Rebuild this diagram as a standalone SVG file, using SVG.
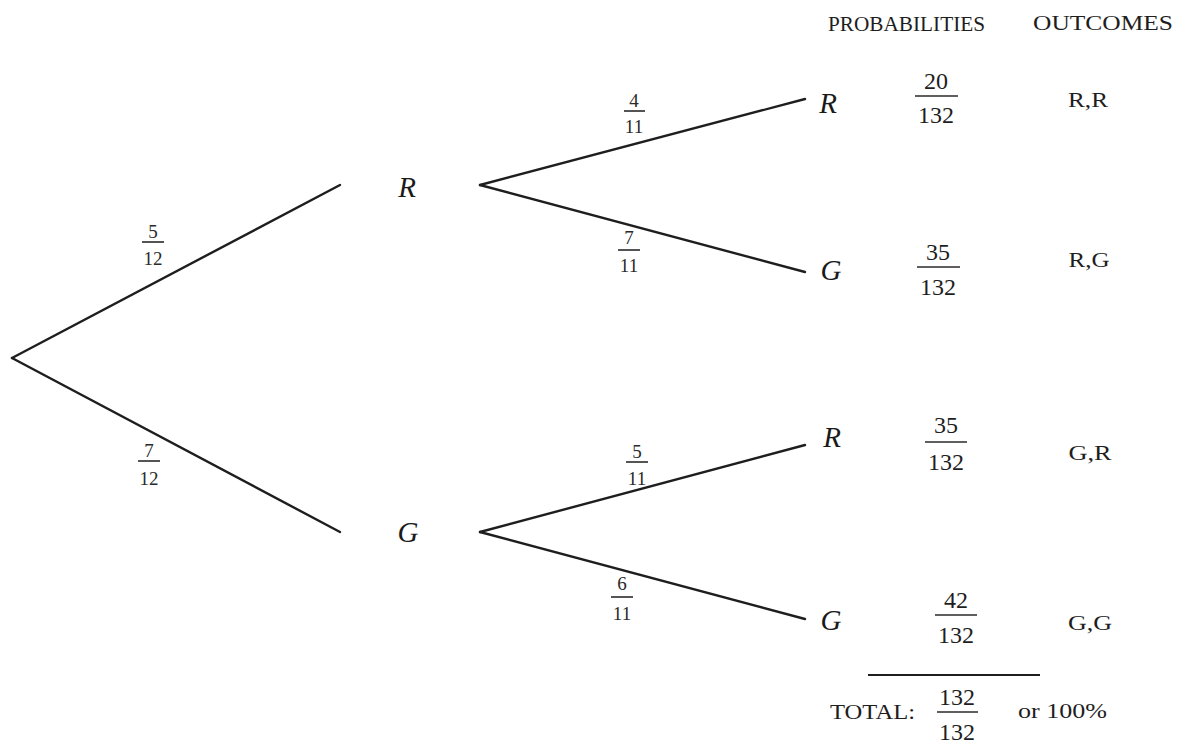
<svg xmlns="http://www.w3.org/2000/svg" width="1185" height="744" viewBox="0 0 1185 744">
<style>
.br{stroke:#1e1e1e;stroke-width:2.4;fill:none;stroke-linecap:round}
.bar{stroke:#2a2a2a;stroke-width:1.6}
.node{font-family:"Liberation Serif",serif;font-style:italic;font-size:29px;fill:#1a1a1a;text-anchor:middle}
.sf{font-family:"Liberation Serif",serif;font-size:19px;fill:#2a2a2a;text-anchor:middle}
.lf{font-family:"Liberation Serif",serif;font-size:24px;fill:#1e1e1e;text-anchor:middle}
.hd{font-family:"Liberation Serif",serif;font-size:22px;fill:#1e1e1e}
.oc{font-family:"Liberation Serif",serif;font-size:22px;fill:#1e1e1e;text-anchor:middle}
</style>
<rect width="1185" height="744" fill="#ffffff"/>

<g id="connectors">
<line class="br" x1="12" y1="358" x2="340" y2="185"/>
<line class="br" x1="12" y1="358" x2="340" y2="532"/>
<line class="br" x1="480" y1="185" x2="805" y2="99"/>
<line class="br" x1="480" y1="185" x2="805" y2="272"/>
<line class="br" x1="480" y1="532" x2="805" y2="445"/>
<line class="br" x1="480" y1="532" x2="805" y2="619"/>
</g>

<g id="branch-labels">
<g id="p-5-12"><text class="sf" x="153" y="238">5</text><line class="bar" x1="142" y1="242" x2="164" y2="242"/><text class="sf" x="153" y="265">12</text></g>
<g id="p-7-12"><text class="sf" x="149" y="457">7</text><line class="bar" x1="138" y1="461" x2="160" y2="461"/><text class="sf" x="149" y="485">12</text></g>
<g id="p-4-11"><text class="sf" x="634" y="107">4</text><line class="bar" x1="624" y1="111" x2="645" y2="111"/><text class="sf" x="634" y="133">11</text></g>
<g id="p-7-11"><text class="sf" x="629" y="244">7</text><line class="bar" x1="618" y1="250" x2="640" y2="250"/><text class="sf" x="629" y="272">11</text></g>
<g id="p-5-11"><text class="sf" x="637" y="458">5</text><line class="bar" x1="626" y1="462" x2="648" y2="462"/><text class="sf" x="637" y="485">11</text></g>
<g id="p-6-11"><text class="sf" x="622" y="590">6</text><line class="bar" x1="611" y1="597" x2="633" y2="597"/><text class="sf" x="622" y="620">11</text></g>
</g>

<g id="node-R1"><text class="node" x="407" y="197">R</text></g>
<g id="node-G1"><text class="node" x="408" y="542">G</text></g>
<g id="node-RR"><text class="node" x="828" y="113">R</text></g>
<g id="node-RG"><text class="node" x="831" y="280">G</text></g>
<g id="node-GR"><text class="node" x="832" y="447">R</text></g>
<g id="node-GG"><text class="node" x="831" y="630">G</text></g>

<g id="headers">
<text class="hd" x="828" y="31" textLength="157" lengthAdjust="spacingAndGlyphs">PROBABILITIES</text>
<text class="hd" x="1033" y="30" textLength="140" lengthAdjust="spacingAndGlyphs">OUTCOMES</text>
</g>

<g id="prob-RR"><text class="lf" x="936" y="89">20</text><line class="bar" x1="915" y1="96" x2="958" y2="96"/><text class="lf" x="936" y="123">132</text></g>
<g id="prob-RG"><text class="lf" x="938" y="260">35</text><line class="bar" x1="917" y1="267" x2="960" y2="267"/><text class="lf" x="938" y="295">132</text></g>
<g id="prob-GR"><text class="lf" x="946" y="433">35</text><line class="bar" x1="925" y1="442" x2="967" y2="442"/><text class="lf" x="946" y="470">132</text></g>
<g id="prob-GG"><text class="lf" x="956" y="608">42</text><line class="bar" x1="935" y1="615" x2="977" y2="615"/><text class="lf" x="956" y="643">132</text></g>

<g id="outcomes">
<text class="oc" x="1088" y="107" textLength="40" lengthAdjust="spacingAndGlyphs">R,R</text>
<text class="oc" x="1089" y="267" textLength="41" lengthAdjust="spacingAndGlyphs">R,G</text>
<text class="oc" x="1090" y="460" textLength="43" lengthAdjust="spacingAndGlyphs">G,R</text>
<text class="oc" x="1090" y="630" textLength="44" lengthAdjust="spacingAndGlyphs">G,G</text>
</g>

<g id="total">
<line x1="868" y1="675" x2="1040" y2="675" stroke="#1e1e1e" stroke-width="2.2"/>
<text class="hd" x="830" y="719" textLength="85" lengthAdjust="spacingAndGlyphs">TOTAL:</text>
<text class="lf" x="957" y="705">132</text><line class="bar" x1="937" y1="712" x2="978" y2="712"/><text class="lf" x="957" y="740">132</text>
<text class="hd" x="1018" y="718" textLength="89" lengthAdjust="spacingAndGlyphs">or 100%</text>
</g>
</svg>
